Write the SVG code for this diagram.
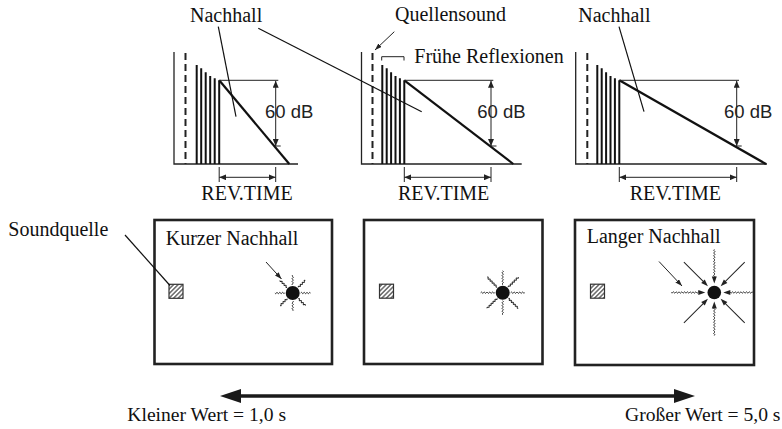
<svg xmlns="http://www.w3.org/2000/svg" xmlns:xlink="http://www.w3.org/1999/xlink" width="782" height="429" viewBox="0 0 782 429">
<defs>
<style>
.serif{font-family:"Liberation Serif","Times New Roman",serif;font-size:20px;fill:#111}
.sans{font-family:"Liberation Sans",Arial,sans-serif;font-size:18.5px;fill:#222}
.bot{font-family:"Liberation Serif","Times New Roman",serif;font-size:19.6px;fill:#111}
.axis{stroke:#222;stroke-width:1.3;fill:none}
.dash{stroke:#222;stroke-width:2;stroke-dasharray:7,4;fill:none}
.bar{stroke:#111;stroke-width:2;fill:none}
.decay{stroke:#111;stroke-width:2.2;fill:none}
.thin{stroke:#222;stroke-width:1;fill:none}
.dim{stroke:#222;stroke-width:1;fill:none;marker-start:url(#ah);marker-end:url(#ah)}
.lead{stroke:#111;stroke-width:1.2;fill:none}
.box{stroke:#222;stroke-width:2.6;fill:#fff}
.src{stroke:#333;stroke-width:1.2;fill:url(#hatch)}
.wave{stroke:#222;stroke-width:1;fill:none}
</style>
<marker id="ah" viewBox="0 0 7 6" refX="7" refY="3" markerWidth="7" markerHeight="6" markerUnits="userSpaceOnUse" orient="auto-start-reverse">
<path d="M0,0 L7,3 L0,6 z" fill="#222"/>
</marker>
<marker id="ah2" viewBox="0 0 7 5" refX="7" refY="2.5" markerWidth="7" markerHeight="5" markerUnits="userSpaceOnUse" orient="auto">
<path d="M0,0 L7,2.5 L0,5 z" fill="#222"/>
</marker>
<pattern id="hatch" width="3.2" height="3.2" patternUnits="userSpaceOnUse" patternTransform="rotate(45)">
<rect width="3.2" height="3.2" fill="#fff"/>
<line x1="0.8" y1="0" x2="0.8" y2="3.2" stroke="#333" stroke-width="1.1"/>
</pattern>
<path id="ray1" class="wave" d="M8,0 q0.7,-1.3 1.4,0 t1.4,0 t1.4,0 t1.4,0 t1.4,0 t1.4,0 t1.4,0"/>
<path id="ray2" class="wave" d="M8,0 q0.7,-1.3 1.4,0 t1.4,0 t1.4,0 t1.4,0 t1.4,0 t1.4,0 t1.4,0 t1.4,0 t1.4,0 t1.4,0"/>
<g id="inWavy">
<path class="wave" d="M43,0 q-0.7,-1.3 -1.4,0 t-1.4,0 t-1.4,0 t-1.4,0 t-1.4,0 t-1.4,0 t-1.4,0 t-1.4,0 t-1.4,0 t-1.4,0 t-1.4,0 t-1.4,0 t-1.4,0 t-1.4,0 t-1.4,0 t-1.4,0 t-1.4,0 t-1.4,0 t-1.4,0 t-1.4,0"/>
<path d="M9,0 L16,-2.5 L16,2.5 z" fill="#222"/>
</g>
<g id="inStraight">
<line class="wave" x1="43" y1="0" x2="15" y2="0"/>
<path d="M9,0 L16,-2.5 L16,2.5 z" fill="#222"/>
</g>
</defs>
<rect width="782" height="429" fill="#fff"/>

<g id="graph1">
<polyline class="axis" points="174,52 174,164 298,164"/>
<line class="dash" x1="185.5" y1="53" x2="185.5" y2="164"/>
<path class="bar" d="M196.7,164V65 M201.2,164V68.3 M205.7,164V72.3 M210.2,164V76 M214.7,164V78.3 M219.2,164V80.3"/>
<line class="decay" x1="219.2" y1="80.3" x2="289.3" y2="164"/>
<line class="thin" x1="219.2" y1="80.3" x2="278.3" y2="80.3"/>
<line class="dim" x1="275.7" y1="80.8" x2="275.7" y2="146"/>
<line class="thin" x1="275.7" y1="146" x2="280.7" y2="146"/>
<line class="dim" x1="219.2" y1="177.3" x2="275.7" y2="177.3"/>
<path class="thin" d="M219.2,167V182 M275.7,167V182"/>
<text class="sans" x="265" y="118">60 dB</text>
<text class="serif" x="247" y="200" text-anchor="middle">REV.TIME</text>
</g>

<g id="graph2">
<polyline class="axis" points="361.5,52 361.5,164 521.7,164"/>
<line class="dash" x1="372.5" y1="53" x2="372.5" y2="164"/>
<path class="bar" d="M382.3,164V65 M386.7,164V68.3 M391.1,164V72.3 M395.5,164V76 M399.9,164V78.3 M404.3,164V80.3"/>
<line class="decay" x1="404.3" y1="80.3" x2="513.3" y2="164"/>
<line class="thin" x1="404.3" y1="80.3" x2="493.3" y2="80.3"/>
<line class="dim" x1="491" y1="80.8" x2="491" y2="146"/>
<line class="thin" x1="491" y1="146" x2="496.5" y2="146"/>
<line class="dim" x1="404.3" y1="177.3" x2="491" y2="177.3"/>
<path class="thin" d="M404.3,167V182 M491,167V182"/>
<text class="sans" x="477.3" y="118">60 dB</text>
<text class="serif" x="443.7" y="200" text-anchor="middle">REV.TIME</text>
<path class="thin" d="M381.7,60.5V56.7H404V60.5"/>
</g>

<g id="graph3">
<polyline class="axis" points="575.7,52 575.7,164 767,164"/>
<line class="dash" x1="587.3" y1="53" x2="587.3" y2="164"/>
<path class="bar" d="M597.3,164V65 M601.7,164V68.3 M606.1,164V72.3 M610.5,164V76 M614.9,164V78.3 M619.3,164V80.3"/>
<line class="decay" x1="619.3" y1="80.3" x2="766" y2="164"/>
<line class="thin" x1="619.3" y1="80.3" x2="739" y2="80.3"/>
<line class="dim" x1="736.7" y1="80.8" x2="736.7" y2="146"/>
<line class="thin" x1="736.7" y1="146" x2="741.7" y2="146"/>
<line class="dim" x1="619.3" y1="177.3" x2="736.7" y2="177.3"/>
<path class="thin" d="M619.3,167V182 M736.7,167V182"/>
<text class="sans" x="724" y="118">60 dB</text>
<text class="serif" x="675.3" y="200" text-anchor="middle">REV.TIME</text>
</g>

<g id="labels">
<text id="lbl-nachhall1" class="serif" x="190" y="22">Nachhall</text>
<text id="lbl-quellensound" class="serif" x="395" y="21">Quellensound</text>
<text id="lbl-fruehe" class="serif" x="414.3" y="62.7">Frühe Reflexionen</text>
<text id="lbl-nachhall3" class="serif" x="578.3" y="22">Nachhall</text>
<text id="lbl-soundquelle" class="serif" x="8.3" y="235.7">Soundquelle</text>
</g>

<g id="box1">
<rect class="box" x="154.5" y="220" width="177.5" height="144"/>
<text class="serif" x="165.7" y="244.5">Kurzer Nachhall</text>
<rect class="src" x="169" y="284.3" width="14" height="14"/>
<circle cx="292.7" cy="293" r="7" fill="#111"/>
<g transform="translate(292.7,293)">
<use xlink:href="#ray1"/>
<use xlink:href="#ray1" transform="rotate(45)"/>
<use xlink:href="#ray1" transform="rotate(90)"/>
<use xlink:href="#ray1" transform="rotate(135)"/>
<use xlink:href="#ray1" transform="rotate(180)"/>
<use xlink:href="#ray1" transform="rotate(225)"/>
<use xlink:href="#ray1" transform="rotate(270)"/>
<use xlink:href="#ray1" transform="rotate(315)"/>
</g>
<line class="thin" x1="266" y1="262" x2="281.5" y2="279" marker-end="url(#ah2)"/>
</g>

<g id="box2">
<rect class="box" x="364" y="220" width="178.5" height="144"/>
<rect class="src" x="379.5" y="284.2" width="14" height="14"/>
<circle cx="502.7" cy="292.7" r="7" fill="#111"/>
<g transform="translate(502.7,292.7)">
<use xlink:href="#ray2"/>
<use xlink:href="#ray2" transform="rotate(45)"/>
<use xlink:href="#ray2" transform="rotate(90)"/>
<use xlink:href="#ray2" transform="rotate(135)"/>
<use xlink:href="#ray2" transform="rotate(180)"/>
<use xlink:href="#ray2" transform="rotate(225)"/>
<use xlink:href="#ray2" transform="rotate(270)"/>
<use xlink:href="#ray2" transform="rotate(315)"/>
</g>
</g>

<g id="box3">
<rect class="box" x="575" y="220" width="179" height="145"/>
<text class="serif" x="586.7" y="242.5">Langer Nachhall</text>
<rect class="src" x="590.5" y="284.2" width="14" height="14"/>
<circle cx="714.3" cy="292.5" r="6.8" fill="#111"/>
<g transform="translate(714.3,292.5)">
<use xlink:href="#inWavy" transform="rotate(90)"/>
<use xlink:href="#inWavy" transform="rotate(180)"/>
<use xlink:href="#inWavy" transform="rotate(270)"/>
<use xlink:href="#inStraight" transform="rotate(45)"/>
<use xlink:href="#inStraight" transform="rotate(135)"/>
<use xlink:href="#inStraight" transform="rotate(225)"/>
<use xlink:href="#inStraight" transform="rotate(315)"/>
<path class="wave" d="M38.5,0 q-0.7,-1.3 -1.4,0 t-1.4,0 t-1.4,0 t-1.4,0 t-1.4,0 t-1.4,0 t-1.4,0 t-1.4,0 t-1.4,0 t-1.4,0 t-1.4,0 t-1.4,0 t-1.4,0 t-1.4,0 t-1.4,0 t-1.4,0 t-1.4,0"/>
<path d="M9,0 L16,-2.5 L16,2.5 z" fill="#222"/>
</g>
<line class="thin" x1="659" y1="261.5" x2="682" y2="286" marker-end="url(#ah2)"/>
</g>

<g id="connectors">
<line class="lead" x1="218.3" y1="26.7" x2="236" y2="116.7"/>
<line class="lead" x1="258.3" y1="28.3" x2="421.7" y2="111.7"/>
<line class="lead" x1="619" y1="26.7" x2="644" y2="111.7"/>
<line class="thin" x1="394.3" y1="31.7" x2="375" y2="50" marker-end="url(#ah2)"/>
<line class="lead" x1="125" y1="235" x2="170" y2="285.5"/>
<line x1="238" y1="396" x2="677" y2="396" stroke="#1a1a1a" stroke-width="3.6"/>
<path d="M220,396 L241,389 L241,403 z" fill="#1a1a1a"/>
<path d="M695,396 L674,389 L674,403 z" fill="#1a1a1a"/>
</g>

<g id="scale-labels">
<text class="bot" x="127.3" y="420.7">Kleiner Wert = 1,0 s</text>
<text class="bot" x="625" y="420.7">Großer Wert = 5,0 s</text>
</g>
</svg>
